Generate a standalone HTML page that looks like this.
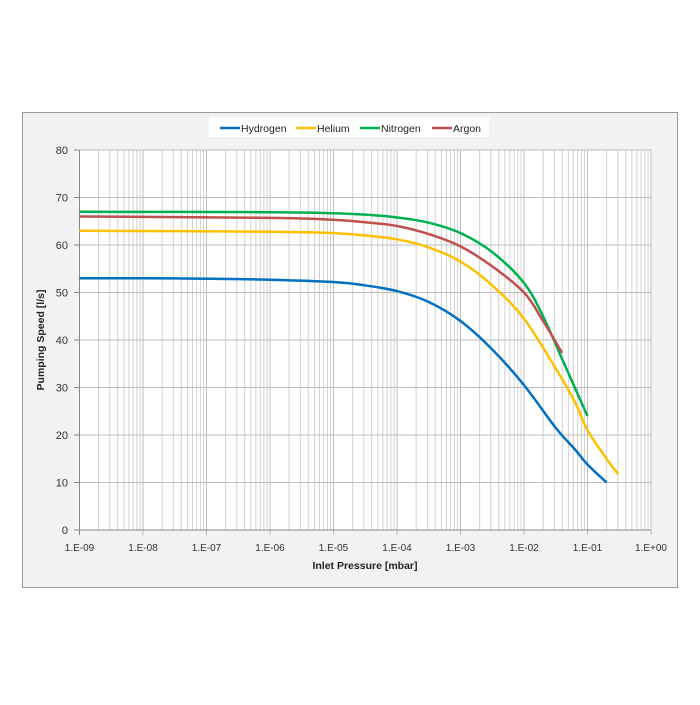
<!DOCTYPE html>
<html><head><meta charset="utf-8"><style>
html,body{margin:0;padding:0;background:#fff}
svg text{font-family:"Liberation Sans",sans-serif}
</style></head><body>
<svg id="s" width="700" height="700" viewBox="0 0 700 700" xmlns="http://www.w3.org/2000/svg">
<rect x="22.5" y="112.5" width="655" height="475" fill="#f2f2f2" stroke="#999" stroke-width="1"/>
<rect x="79" y="150" width="572" height="380" fill="#fff"/>
<defs>
<g id="dec" stroke="#d0d0d0" stroke-width="1">
<line x1="19.12" y1="150" x2="19.12" y2="530"/>
<line x1="30.30" y1="150" x2="30.30" y2="530"/>
<line x1="38.23" y1="150" x2="38.23" y2="530"/>
<line x1="44.39" y1="150" x2="44.39" y2="530"/>
<line x1="49.41" y1="150" x2="49.41" y2="530"/>
<line x1="53.66" y1="150" x2="53.66" y2="530"/>
<line x1="57.35" y1="150" x2="57.35" y2="530"/>
<line x1="60.59" y1="150" x2="60.59" y2="530"/>
</g>
</defs>
<use href="#dec" x="79.5"/><use href="#dec" x="143"/><use href="#dec" x="206.5"/><use href="#dec" x="270"/><use href="#dec" x="333.5"/><use href="#dec" x="397"/><use href="#dec" x="460.5"/><use href="#dec" x="524"/><use href="#dec" x="587.5"/>
<g stroke="#bdbdbd" stroke-width="1">
<line x1="79" y1="150" x2="651" y2="150"/><line x1="79" y1="197.5" x2="651" y2="197.5"/><line x1="79" y1="245" x2="651" y2="245"/><line x1="79" y1="292.5" x2="651" y2="292.5"/><line x1="79" y1="340" x2="651" y2="340"/><line x1="79" y1="387.5" x2="651" y2="387.5"/><line x1="79" y1="435" x2="651" y2="435"/><line x1="79" y1="482.5" x2="651" y2="482.5"/>
<line x1="143" y1="150" x2="143" y2="535"/><line x1="206.5" y1="150" x2="206.5" y2="535"/><line x1="270" y1="150" x2="270" y2="535"/><line x1="333.5" y1="150" x2="333.5" y2="535"/><line x1="397" y1="150" x2="397" y2="535"/><line x1="460.5" y1="150" x2="460.5" y2="535"/><line x1="524" y1="150" x2="524" y2="535"/><line x1="587.5" y1="150" x2="587.5" y2="535"/><line x1="651" y1="150" x2="651" y2="535"/>
</g>
<g stroke="#888" stroke-width="1"><line x1="79.5" y1="150" x2="79.5" y2="535"/><line x1="74" y1="530" x2="651" y2="530"/>
<line x1="74" y1="150" x2="79" y2="150"/><line x1="74" y1="197.5" x2="79" y2="197.5"/><line x1="74" y1="245" x2="79" y2="245"/><line x1="74" y1="292.5" x2="79" y2="292.5"/><line x1="74" y1="340" x2="79" y2="340"/><line x1="74" y1="387.5" x2="79" y2="387.5"/><line x1="74" y1="435" x2="79" y2="435"/><line x1="74" y1="482.5" x2="79" y2="482.5"/></g>
<g font-size="11" fill="#333" text-anchor="end">
<text x="68" y="154">80</text><text x="68" y="201.5">70</text><text x="68" y="249">60</text><text x="68" y="296.5">50</text><text x="68" y="344">40</text><text x="68" y="391.5">30</text><text x="68" y="439">20</text><text x="68" y="486.5">10</text><text x="68" y="534">0</text>
</g>
<g font-size="10" fill="#333" text-anchor="middle">
<text x="79.5" y="551">1.E-09</text><text x="143" y="551">1.E-08</text><text x="206.5" y="551">1.E-07</text><text x="270" y="551">1.E-06</text><text x="333.5" y="551">1.E-05</text><text x="397" y="551">1.E-04</text><text x="460.5" y="551">1.E-03</text><text x="524" y="551">1.E-02</text><text x="587.5" y="551">1.E-01</text><text x="651" y="551">1.E+00</text>
</g>
<text x="365" y="569" font-size="10.5" font-weight="bold" text-anchor="middle" fill="#222">Inlet Pressure [mbar]</text>
<text x="0" y="0" font-size="10.5" font-weight="bold" text-anchor="middle" fill="#222" transform="translate(44 340) rotate(-90)">Pumping Speed [l/s]</text>
<g id="curves" fill="none" stroke-width="2.5" stroke-linejoin="round" stroke-linecap="butt">
<polyline stroke="#0070c0" points="79.5,278.25 143,278.25 206.5,278.7 270,279.7 333.5,282.05 365.25,285.4 397,291.1 428.75,302 460.5,321 492.25,349.5 524,385.1 555.75,427.9 574.8,449.25 587.5,464.45 606.55,482.5"/>
<polyline stroke="#ffc000" points="79.5,230.75 270,231.7 333.5,233.1 365.25,235.5 397,239.3 428.75,247.4 460.5,261.6 492.25,285.4 524,318.6 555.75,368.5 574.8,401.75 587.5,430.25 606.55,458.75 618,473.95"/>
<polyline stroke="#00b050" points="79.5,211.75 270,212.2 333.5,213.2 365.25,214.6 397,217.45 428.75,222.7 460.5,233.1 492.25,252.1 524,283 543.05,316.25 562.1,359 574.8,387.5 587.5,416"/>
<polyline stroke="#c0504d" points="79.5,216.5 270,217.9 333.5,219.8 365.25,222.2 397,226 428.75,234.1 460.5,246.4 492.25,266.4 524,292.5 543.05,321 562.1,352.8"/>
</g>
<rect x="209" y="117" width="280" height="20" fill="#fff"/>
<g stroke-width="2.5">
<line x1="220" y1="128" x2="240" y2="128" stroke="#0070c0"/>
<line x1="296" y1="128" x2="316" y2="128" stroke="#ffc000"/>
<line x1="360" y1="128" x2="380" y2="128" stroke="#00b050"/>
<line x1="432" y1="128" x2="452" y2="128" stroke="#c0504d"/>
</g>
<g font-size="10.5" fill="#222">
<text x="241" y="132">Hydrogen</text><text x="317" y="132">Helium</text><text x="381" y="132">Nitrogen</text><text x="453" y="132">Argon</text>
</g>
</svg>
<script>
(function(){
var ns="http://www.w3.org/2000/svg";
var pls=document.querySelectorAll("#curves polyline");
for(var i=0;i<pls.length;i++){
 var pl=pls[i];
 var p=pl.getAttribute("points").trim().split(/\s+/).map(function(s){return s.split(",").map(Number);});
 var d="M"+p[0][0]+","+p[0][1];
 for(var j=0;j<p.length-1;j++){
  var p0=p[j-1]||p[j],p1=p[j],p2=p[j+1],p3=p[j+2]||p[j+1];
  var c1x=p1[0]+(p2[0]-p0[0])/6,c1y=p1[1]+(p2[1]-p0[1])/6;
  var c2x=p2[0]-(p3[0]-p1[0])/6,c2y=p2[1]-(p3[1]-p1[1])/6;
  d+=" C"+c1x.toFixed(2)+","+c1y.toFixed(2)+" "+c2x.toFixed(2)+","+c2y.toFixed(2)+" "+p2[0]+","+p2[1];
 }
 var path=document.createElementNS(ns,"path");
 path.setAttribute("d",d);
 path.setAttribute("stroke",pl.getAttribute("stroke"));
 pl.parentNode.replaceChild(path,pl);
}
})();
</script>
</body></html>
